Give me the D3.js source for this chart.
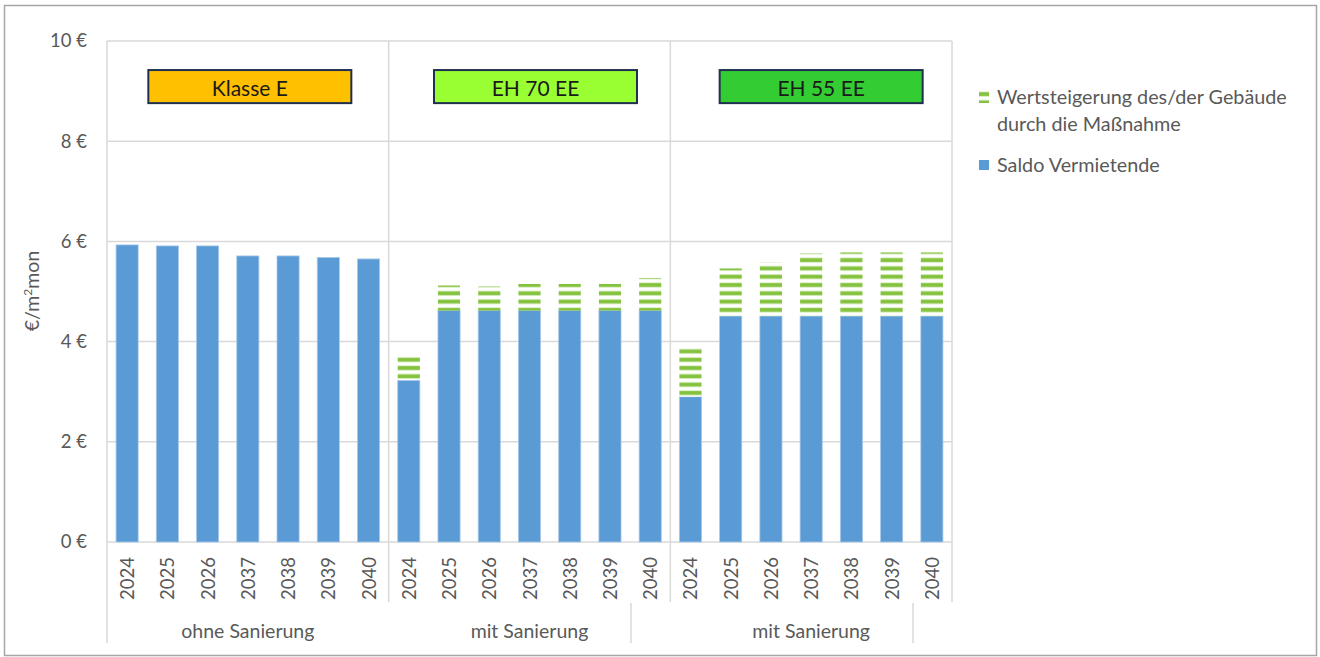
<!DOCTYPE html>
<html><head><meta charset="utf-8">
<script src="https://cdn.jsdelivr.net/npm/d3@7"></script>
<style>
html,body{margin:0;padding:0;background:#fff;}
svg{display:block;font-family:Lato,"Noto Sans",sans-serif;}
</style></head>
<body><svg id="c" width="1320" height="657"></svg>
<script>
// ---- data ----
const years = ["2024","2025","2026","2037","2038","2039","2040"];
const groups = ["ohne Sanierung","mit Sanierung","mit Sanierung"];
const classes = ["Klasse E","EH 70 EE","EH 55 EE"];
const classColors = ["#FFC000","#99FF33","#33CC33"];
const saldo = [5.93,5.91,5.91,5.71,5.71,5.68,5.65,
               3.23,4.62,4.62,4.62,4.62,4.62,4.62,
               2.90,4.51,4.51,4.51,4.51,4.51,4.51];
const wert  = [0,0,0,0,0,0,0,
               0.52,0.50,0.48,0.53,0.53,0.53,0.65,
               0.99,0.95,1.07,1.25,1.27,1.27,1.27];
const yTicks = [0,2,4,6,8,10];
const seriesNames = ["Wertsteigerung des/der Gebäude|durch die Maßnahme","Saldo Vermietende"];

// ---- setup ----
const svg = d3.select("#c");
const L=107, R=952, T=41, B=542;
const cats = d3.range(groups.length*years.length);
const x = d3.scaleBand().domain(cats).range([L,R]).paddingInner(0.45).paddingOuter(0.225);
const y = d3.scaleLinear().domain([0,10]).range([B,T]);
const grey="#595959", grid="#d9d9d9";

// outer border
svg.append("rect").attr("x",4.5).attr("y",5.5).attr("width",1312).attr("height",650)
  .attr("fill","none").attr("stroke","#a6a6a6").attr("stroke-width",1.5);

// pattern
const defs = svg.append("defs");
const pat = defs.append("pattern").attr("id","hatch").attr("patternUnits","userSpaceOnUse")
  .attr("width",8).attr("height",8.3);
pat.append("rect").attr("width",8).attr("height",8.3).attr("fill","#fff");
pat.append("rect").attr("y",0.5).attr("width",8).attr("height",4.6).attr("fill","#b5dd8a");
pat.append("rect").attr("y",1.1).attr("width",8).attr("height",3.4).attr("fill","#84c23e");

// gridlines
svg.append("g").selectAll("line").data(yTicks).join("line")
  .attr("x1",L).attr("x2",R).attr("y1",d=>y(d)).attr("y2",d=>y(d))
  .attr("stroke",grid).attr("stroke-width",1.5);

// y axis labels
const yAxis = d3.axisLeft(y).tickValues(yTicks).tickSize(0).tickPadding(0).tickFormat(d=>d+" €");
const yg = svg.append("g").attr("transform",`translate(${L-20},0)`).call(yAxis);
yg.select(".domain").remove();
yg.selectAll("text").attr("fill",grey).attr("font-size",18.5).attr("font-family","Lato,sans-serif");

// y title
svg.append("text").attr("transform","translate(39,291) rotate(-90)").attr("text-anchor","middle")
  .attr("fill",grey).attr("font-size",19.5)
  .html('€/m<tspan dy="-7" font-size="12">2</tspan><tspan dy="7">mon</tspan>');

// group separators
const n = years.length;
const sepX = d3.range(groups.length+1).map(g=> g===groups.length ? R : x(g*n) - x.step()*x.paddingInner()/2);
sepX[0]=L;
sepX.forEach((sx,i)=>{
  svg.append("line").attr("x1",sx).attr("x2",sx).attr("y1",T).attr("y2",i===0?643:602)
    .attr("stroke",grid).attr("stroke-width",1.5);
});
// second-level tick marks (as in reference)
[631,913].forEach(sx=>{
  svg.append("line").attr("x1",sx).attr("x2",sx).attr("y1",603).attr("y2",643)
    .attr("stroke",grid).attr("stroke-width",1.5);
});

// bars
svg.append("g").selectAll("rect").data(cats).join("rect")
  .attr("x",i=>x(i)).attr("width",x.bandwidth())
  .attr("y",i=>y(saldo[i])).attr("height",i=>y(0)-y(saldo[i]))
  .attr("fill","#5B9BD5").attr("stroke","#a9c8ea").attr("stroke-width",0.8);
svg.append("g").selectAll("rect").data(cats.filter(i=>wert[i]>0)).join("rect")
  .attr("x",i=>x(i)).attr("width",x.bandwidth())
  .attr("y",i=>y(saldo[i]+wert[i])).attr("height",i=>y(saldo[i])-y(saldo[i]+wert[i]))
  .attr("fill","url(#hatch)");

// x year labels
svg.append("g").selectAll("text").data(cats).join("text")
  .attr("transform",i=>`translate(${x(i)+x.bandwidth()/2},557) rotate(-90)`)
  .attr("text-anchor","end").attr("dominant-baseline","central")
  .attr("fill",grey).attr("font-size",18.5).text(i=>years[i%n]);

// group labels
groups.forEach((g,i)=>{
  svg.append("text").attr("x",(sepX[i]+sepX[i+1])/2).attr("y",638).attr("text-anchor","middle")
    .attr("fill",grey).attr("font-size",19.5).text(g);
});

// class boxes
classes.forEach((c,i)=>{
  const cx=(sepX[i]+sepX[i+1])/2 + 2 + i*4;
  const w=203, bx=cx-w/2;
  svg.append("rect").attr("x",bx).attr("y",y(9.42)).attr("width",w).attr("height",y(8.76)-y(9.42))
    .attr("fill",classColors[i]).attr("stroke","#1F2F4F").attr("stroke-width",2);
  svg.append("text").attr("x",cx).attr("y",(y(9.42)+y(8.76))/2+1).attr("text-anchor","middle")
    .attr("dominant-baseline","central").attr("fill","#1a1a1a").attr("font-size",21).text(c);
});

// legend
const lg = svg.append("g");
lg.append("rect").attr("x",979).attr("y",90).attr("width",10).attr("height",13).attr("fill","url(#hatch)");
const l1 = seriesNames[0].split("|");
lg.append("text").attr("x",997).attr("y",104).attr("fill",grey).attr("font-size",19.8).text(l1[0]);
lg.append("text").attr("x",997).attr("y",131).attr("fill",grey).attr("font-size",19.8).text(l1[1]);
lg.append("rect").attr("x",979).attr("y",160).attr("width",10).attr("height",10).attr("fill","#5B9BD5");
lg.append("text").attr("x",997).attr("y",172).attr("fill",grey).attr("font-size",19.8).text(seriesNames[1]);
</script></body></html>
